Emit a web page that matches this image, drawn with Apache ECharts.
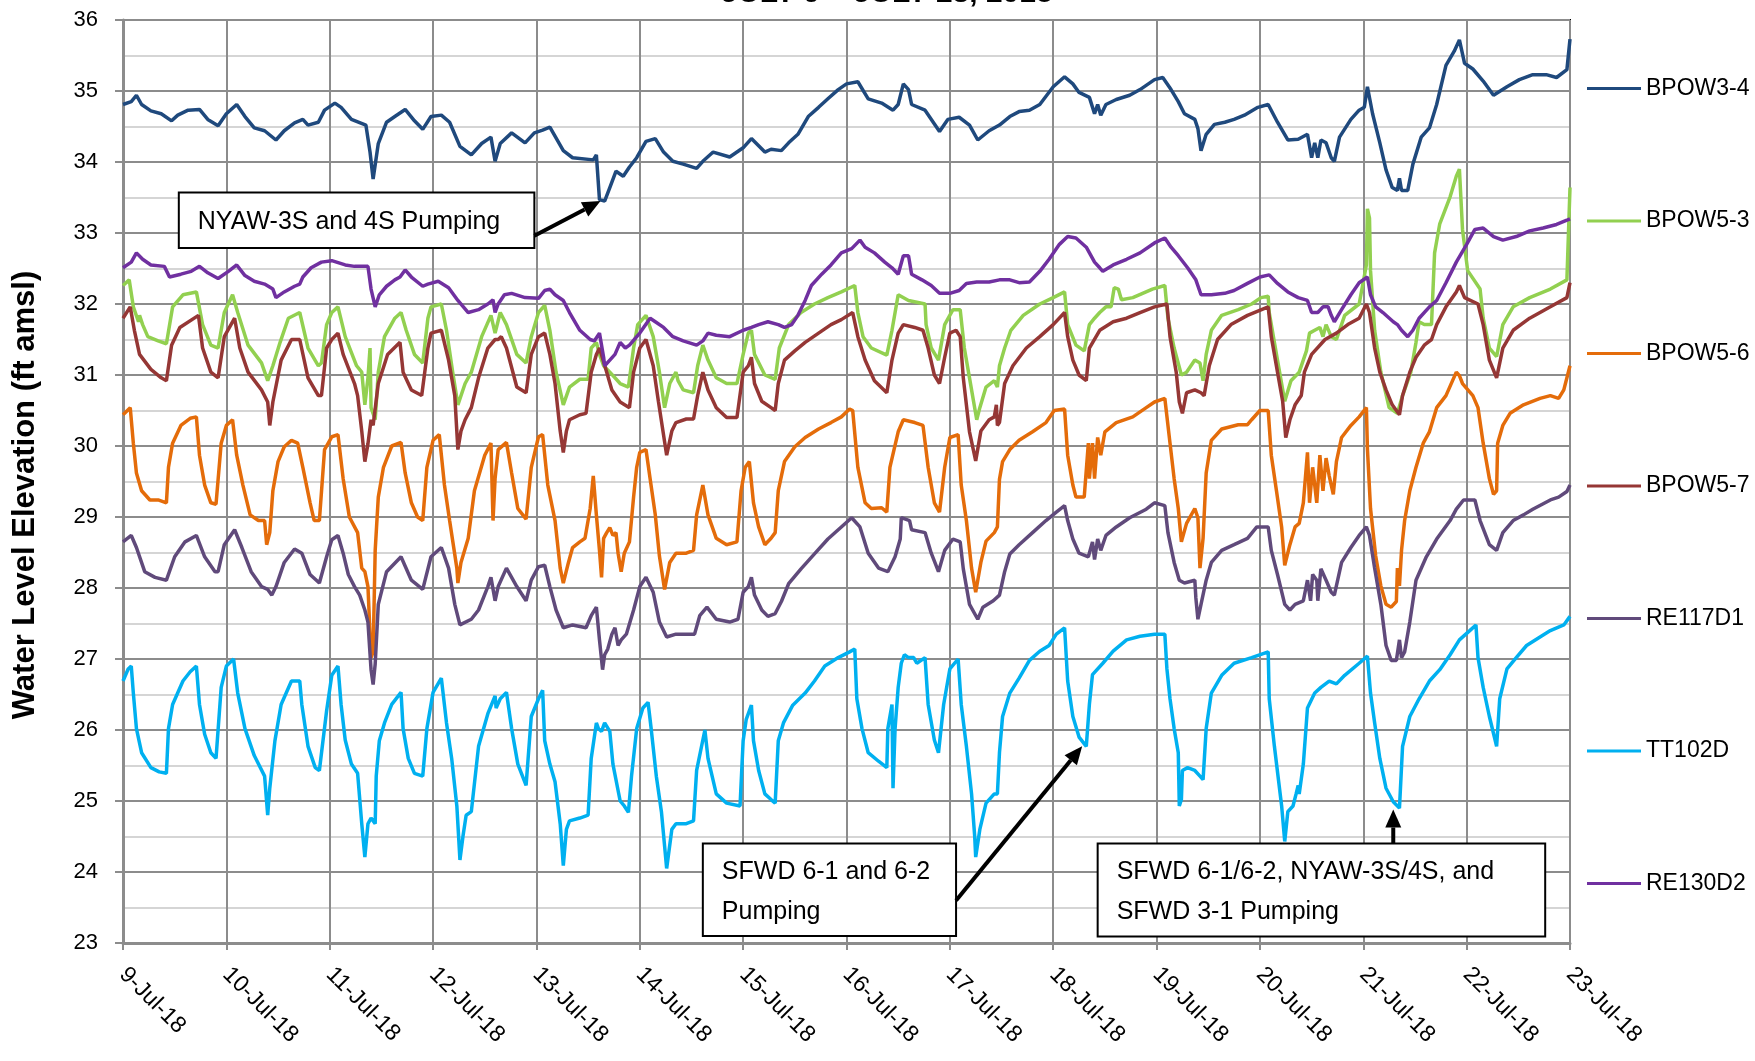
<!DOCTYPE html>
<html>
<head>
<meta charset="utf-8">
<title>Water Level Elevation</title>
<script src="https://cdn.jsdelivr.net/npm/echarts@6/dist/echarts.min.js"></script>
<style>
  html, body { margin: 0; padding: 0; background: #fff; }
  #chart { width: 1755px; height: 1061px; }
</style>
</head>
<body>
<div id="chart"></div>
<script>
// x = days after 9-Jul-18 00:00, y = water level (ft amsl)
const dayLabels = ['9-Jul-18', '10-Jul-18', '11-Jul-18', '12-Jul-18', '13-Jul-18', '14-Jul-18', '15-Jul-18',
  '16-Jul-18', '17-Jul-18', '18-Jul-18', '19-Jul-18', '20-Jul-18', '21-Jul-18', '22-Jul-18', '23-Jul-18'];

const seriesNames = ['BPOW3-4', 'BPOW5-3', 'BPOW5-6', 'BPOW5-7', 'RE117D1', 'TT102D', 'RE130D2'];
const seriesColors = ['#1F497D', '#92D050', '#E46C0A', '#953735', '#604A7B', '#00B0F0', '#7030A0'];

const bpow34 = [[0.00,34.81],[0.08,34.85],[0.13,34.94],[0.18,34.81],[0.27,34.72],[0.37,34.68],[0.47,34.58],[0.53,34.66],[0.63,34.73],[0.74,34.74],[0.82,34.6],[0.92,34.51],[1.00,34.68],[1.10,34.81],[1.18,34.64],[1.27,34.48],[1.37,34.44],[1.48,34.31],[1.56,34.44],[1.66,34.55],[1.74,34.6],[1.79,34.52],[1.89,34.56],[1.95,34.73],[2.05,34.83],[2.11,34.77],[2.21,34.6],[2.35,34.52],[2.39,34.14],[2.42,33.76],[2.47,34.26],[2.55,34.56],[2.63,34.64],[2.73,34.74],[2.82,34.58],[2.90,34.46],[2.98,34.64],[3.08,34.66],[3.16,34.56],[3.26,34.22],[3.37,34.1],[3.47,34.26],[3.56,34.35],[3.60,34.01],[3.65,34.26],[3.76,34.41],[3.89,34.27],[3.98,34.41],[4.06,34.45],[4.13,34.49],[4.26,34.16],[4.35,34.06],[4.55,34.03],[4.58,34.1],[4.61,33.47],[4.66,33.45],[4.71,33.64],[4.77,33.87],[4.84,33.8],[4.90,33.93],[4.97,34.06],[5.06,34.29],[5.15,34.33],[5.23,34.14],[5.32,34.01],[5.42,33.97],[5.55,33.91],[5.61,34.01],[5.71,34.14],[5.87,34.07],[6.00,34.2],[6.08,34.33],[6.21,34.14],[6.27,34.18],[6.37,34.16],[6.44,34.27],[6.53,34.39],[6.63,34.64],[6.73,34.77],[6.82,34.89],[6.92,35.02],[7.00,35.1],[7.11,35.13],[7.21,34.89],[7.34,34.83],[7.45,34.73],[7.50,34.81],[7.55,35.1],[7.60,35.02],[7.63,34.81],[7.76,34.73],[7.90,34.43],[7.98,34.6],[8.09,34.63],[8.19,34.52],[8.27,34.31],[8.38,34.44],[8.48,34.52],[8.58,34.64],[8.67,34.71],[8.77,34.73],[8.87,34.81],[9.00,35.06],[9.11,35.2],[9.19,35.1],[9.25,34.98],[9.35,34.91],[9.40,34.68],[9.43,34.81],[9.46,34.66],[9.51,34.81],[9.61,34.88],[9.74,34.94],[9.84,35.02],[9.98,35.16],[10.06,35.19],[10.14,35.02],[10.21,34.85],[10.27,34.68],[10.37,34.6],[10.40,34.47],[10.43,34.16],[10.48,34.39],[10.56,34.53],[10.66,34.56],[10.75,34.6],[10.85,34.66],[10.98,34.77],[11.08,34.81],[11.17,34.56],[11.27,34.31],[11.37,34.32],[11.46,34.39],[11.50,34.06],[11.53,34.27],[11.56,34.06],[11.59,34.31],[11.64,34.27],[11.69,34.06],[11.72,34.01],[11.77,34.35],[11.88,34.6],[11.96,34.73],[12.01,34.77],[12.04,35.06],[12.09,34.68],[12.16,34.27],[12.22,33.89],[12.28,33.64],[12.33,33.6],[12.35,33.77],[12.37,33.6],[12.43,33.6],[12.48,33.97],[12.56,34.35],[12.64,34.48],[12.71,34.81],[12.80,35.36],[12.88,35.56],[12.93,35.72],[12.98,35.39],[13.06,35.31],[13.16,35.14],[13.26,34.94],[13.39,35.06],[13.51,35.16],[13.64,35.23],[13.77,35.23],[13.87,35.19],[13.97,35.3],[14.00,35.73]];

const bpow53 = [[0.00,32.26],[0.06,32.34],[0.10,31.96],[0.15,31.75],[0.16,31.84],[0.19,31.71],[0.24,31.54],[0.34,31.48],[0.42,31.44],[0.48,31.96],[0.58,32.13],[0.71,32.17],[0.77,31.71],[0.85,31.42],[0.92,31.38],[0.98,31.88],[1.06,32.13],[1.11,31.88],[1.21,31.42],[1.34,31.17],[1.40,30.92],[1.45,31.13],[1.52,31.46],[1.60,31.8],[1.71,31.88],[1.79,31.38],[1.89,31.13],[1.92,31.17],[1.97,31.71],[2.02,31.88],[2.08,31.96],[2.15,31.54],[2.26,31.13],[2.31,31.04],[2.34,30.58],[2.37,30.96],[2.39,31.38],[2.40,30.54],[2.44,30.37],[2.47,31.04],[2.53,31.54],[2.63,31.8],[2.69,31.88],[2.74,31.63],[2.82,31.29],[2.90,31.17],[2.95,31.8],[2.98,31.96],[3.08,32.0],[3.13,31.63],[3.19,31.04],[3.24,30.58],[3.31,30.88],[3.37,31.04],[3.47,31.54],[3.56,31.84],[3.60,31.59],[3.65,31.88],[3.71,31.71],[3.81,31.29],[3.90,31.17],[3.95,31.54],[4.02,31.88],[4.08,31.98],[4.13,31.63],[4.19,31.04],[4.26,30.58],[4.32,30.83],[4.42,30.94],[4.50,30.94],[4.53,31.38],[4.58,31.46],[4.61,31.29],[4.65,31.13],[4.71,31.04],[4.81,30.88],[4.89,30.83],[4.94,31.38],[4.98,31.71],[5.06,31.84],[5.13,31.54],[5.19,31.04],[5.24,30.54],[5.29,30.88],[5.35,31.04],[5.37,30.92],[5.42,30.79],[5.52,30.75],[5.56,31.13],[5.61,31.42],[5.66,31.21],[5.74,30.96],[5.84,30.88],[5.94,30.88],[6.00,31.29],[6.05,31.59],[6.08,31.63],[6.11,31.29],[6.21,31.0],[6.31,30.94],[6.35,31.38],[6.44,31.71],[6.56,31.88],[6.69,32.0],[6.82,32.09],[6.95,32.17],[7.08,32.26],[7.11,31.88],[7.16,31.54],[7.24,31.38],[7.39,31.28],[7.44,31.63],[7.50,32.13],[7.60,32.05],[7.76,32.0],[7.77,31.71],[7.82,31.38],[7.89,31.21],[7.95,31.71],[8.03,31.92],[8.10,31.92],[8.14,31.38],[8.19,30.96],[8.26,30.37],[8.29,30.54],[8.35,30.83],[8.43,30.92],[8.46,30.83],[8.48,31.13],[8.53,31.38],[8.59,31.63],[8.71,31.84],[8.87,32.0],[9.00,32.09],[9.11,32.17],[9.14,31.71],[9.22,31.42],[9.30,31.34],[9.35,31.71],[9.40,31.8],[9.45,31.88],[9.51,31.96],[9.56,31.96],[9.59,32.23],[9.63,32.21],[9.66,32.06],[9.77,32.09],[9.96,32.21],[10.08,32.26],[10.11,31.8],[10.17,31.38],[10.24,31.0],[10.29,31.04],[10.37,31.21],[10.42,31.17],[10.45,30.92],[10.48,31.29],[10.53,31.63],[10.63,31.84],[10.79,31.92],[10.92,32.0],[11.01,32.09],[11.08,32.11],[11.09,31.88],[11.16,31.29],[11.24,30.63],[11.30,30.92],[11.38,31.04],[11.45,31.34],[11.48,31.59],[11.53,31.63],[11.58,31.67],[11.61,31.54],[11.64,31.71],[11.69,31.54],[11.74,31.5],[11.82,31.84],[11.96,32.0],[12.03,32.55],[12.04,33.34],[12.06,33.21],[12.07,32.47],[12.11,31.63],[12.17,31.04],[12.25,30.54],[12.33,30.46],[12.38,30.71],[12.46,31.04],[12.51,31.46],[12.54,31.75],[12.59,31.71],[12.66,31.71],[12.69,32.72],[12.74,33.13],[12.84,33.51],[12.90,33.8],[12.93,33.9],[12.96,33.05],[13.01,32.47],[13.13,32.21],[13.16,31.8],[13.22,31.38],[13.29,31.26],[13.35,31.71],[13.45,31.96],[13.61,32.09],[13.81,32.21],[13.97,32.34],[14.00,33.64]];

const bpow56 = [[0.00,30.44],[0.07,30.54],[0.10,30.04],[0.13,29.62],[0.18,29.37],[0.26,29.24],[0.34,29.24],[0.42,29.2],[0.44,29.7],[0.48,30.04],[0.56,30.29],[0.65,30.39],[0.71,30.41],[0.74,29.87],[0.79,29.45],[0.85,29.2],[0.90,29.18],[0.95,30.04],[1.00,30.29],[1.06,30.37],[1.10,29.87],[1.16,29.45],[1.23,29.03],[1.31,28.95],[1.37,28.95],[1.39,28.61],[1.42,28.78],[1.45,29.37],[1.50,29.78],[1.56,29.99],[1.63,30.08],[1.69,30.04],[1.74,29.7],[1.81,29.2],[1.85,28.95],[1.90,28.95],[1.95,29.95],[2.02,30.13],[2.08,30.16],[2.13,29.54],[2.19,29.0],[2.27,28.78],[2.31,28.28],[2.34,28.23],[2.37,28.02],[2.40,27.02],[2.42,27.1],[2.44,28.53],[2.47,29.28],[2.52,29.7],[2.60,30.0],[2.69,30.05],[2.73,29.62],[2.79,29.2],[2.85,29.0],[2.90,28.95],[2.94,29.7],[3.00,30.08],[3.06,30.16],[3.11,29.45],[3.16,28.95],[3.23,28.28],[3.24,28.07],[3.27,28.36],[3.34,28.7],[3.40,29.37],[3.50,29.87],[3.56,30.04],[3.58,28.95],[3.60,29.54],[3.63,29.95],[3.71,30.05],[3.76,29.62],[3.82,29.12],[3.90,28.97],[3.95,29.7],[4.02,30.13],[4.06,30.16],[4.11,29.45],[4.18,28.95],[4.23,28.28],[4.26,28.07],[4.31,28.36],[4.35,28.57],[4.42,28.65],[4.47,28.7],[4.52,29.12],[4.55,29.58],[4.58,29.03],[4.61,28.53],[4.63,28.15],[4.65,28.7],[4.68,28.78],[4.71,28.85],[4.74,28.74],[4.77,28.78],[4.79,28.49],[4.82,28.23],[4.85,28.49],[4.90,28.65],[4.94,29.28],[4.97,29.7],[5.00,29.91],[5.06,29.95],[5.10,29.54],[5.15,29.03],[5.19,28.45],[5.24,27.98],[5.29,28.36],[5.35,28.49],[5.45,28.49],[5.52,28.53],[5.55,29.03],[5.61,29.45],[5.66,29.03],[5.74,28.7],[5.84,28.61],[5.94,28.65],[5.98,29.37],[6.02,29.7],[6.06,29.78],[6.10,29.2],[6.15,28.86],[6.21,28.61],[6.27,28.7],[6.31,28.78],[6.34,29.37],[6.40,29.78],[6.50,29.99],[6.60,30.12],[6.73,30.24],[6.85,30.33],[6.95,30.41],[7.03,30.52],[7.06,30.5],[7.11,29.7],[7.18,29.2],[7.24,29.12],[7.34,29.13],[7.39,29.07],[7.42,29.7],[7.50,30.2],[7.55,30.37],[7.66,30.33],[7.74,30.29],[7.79,29.7],[7.85,29.2],[7.90,29.07],[7.95,29.7],[8.00,30.12],[8.08,30.16],[8.11,29.45],[8.16,28.95],[8.21,28.28],[8.25,27.94],[8.30,28.36],[8.35,28.66],[8.43,28.78],[8.46,28.86],[8.48,29.53],[8.51,29.78],[8.58,29.95],[8.67,30.08],[8.80,30.2],[8.93,30.33],[9.01,30.5],[9.11,30.52],[9.14,29.87],[9.19,29.45],[9.22,29.28],[9.30,29.28],[9.34,30.04],[9.35,29.54],[9.38,30.04],[9.40,29.54],[9.43,30.12],[9.46,29.87],[9.50,30.2],[9.61,30.33],[9.77,30.41],[9.90,30.54],[9.98,30.62],[10.08,30.67],[10.13,30.04],[10.17,29.54],[10.21,29.12],[10.24,28.65],[10.29,28.91],[10.37,29.12],[10.40,28.99],[10.42,28.28],[10.45,28.7],[10.48,29.62],[10.53,30.08],[10.63,30.24],[10.79,30.3],[10.88,30.3],[10.92,30.37],[11.00,30.5],[11.08,30.5],[11.11,29.87],[11.16,29.37],[11.21,28.86],[11.24,28.32],[11.29,28.61],[11.34,28.86],[11.38,28.91],[11.42,29.2],[11.46,29.91],[11.48,29.2],[11.51,29.7],[11.55,29.2],[11.58,29.87],[11.61,29.37],[11.64,29.83],[11.67,29.58],[11.71,29.32],[11.74,29.78],[11.79,30.12],[11.88,30.29],[11.96,30.41],[12.03,30.54],[12.04,29.96],[12.07,29.12],[12.12,28.45],[12.17,28.03],[12.22,27.77],[12.27,27.73],[12.32,27.81],[12.33,28.28],[12.35,28.03],[12.37,28.53],[12.40,28.95],[12.45,29.37],[12.51,29.7],[12.58,30.04],[12.64,30.2],[12.71,30.54],[12.80,30.71],[12.90,31.04],[12.93,30.99],[12.96,30.88],[13.06,30.71],[13.11,30.54],[13.16,30.04],[13.22,29.54],[13.26,29.32],[13.29,29.37],[13.30,30.04],[13.35,30.29],[13.42,30.46],[13.55,30.58],[13.71,30.67],[13.81,30.71],[13.89,30.67],[13.94,30.79],[14.00,31.13]];

const bpow57 = [[0.00,31.8],[0.07,31.96],[0.11,31.63],[0.16,31.29],[0.27,31.08],[0.37,30.96],[0.42,30.92],[0.47,31.42],[0.55,31.67],[0.73,31.84],[0.77,31.38],[0.85,31.04],[0.92,30.96],[0.98,31.54],[1.08,31.8],[1.13,31.38],[1.21,31.04],[1.34,30.79],[1.40,30.62],[1.42,30.29],[1.45,30.62],[1.53,31.21],[1.63,31.5],[1.71,31.5],[1.79,30.96],[1.89,30.71],[1.92,30.71],[1.97,31.38],[2.02,31.5],[2.08,31.59],[2.13,31.29],[2.24,30.88],[2.27,30.71],[2.31,30.21],[2.34,29.78],[2.37,30.03],[2.40,30.37],[2.42,30.29],[2.47,30.88],[2.56,31.29],[2.68,31.46],[2.71,31.04],[2.79,30.79],[2.89,30.71],[2.95,31.38],[2.98,31.59],[3.08,31.63],[3.15,31.21],[3.21,30.71],[3.24,29.95],[3.27,30.21],[3.31,30.37],[3.37,30.54],[3.44,30.96],[3.53,31.38],[3.60,31.5],[3.63,31.5],[3.66,31.54],[3.71,31.38],[3.81,30.83],[3.90,30.75],[3.95,31.29],[4.02,31.54],[4.08,31.59],[4.13,31.29],[4.18,30.88],[4.23,30.21],[4.26,29.91],[4.29,30.21],[4.32,30.37],[4.42,30.44],[4.48,30.46],[4.53,31.04],[4.58,31.29],[4.61,31.38],[4.68,31.04],[4.73,30.79],[4.81,30.62],[4.90,30.54],[4.94,31.04],[5.00,31.38],[5.06,31.5],[5.13,31.13],[5.18,30.63],[5.26,29.87],[5.31,30.21],[5.35,30.33],[5.45,30.38],[5.52,30.38],[5.56,30.71],[5.61,31.04],[5.66,30.79],[5.74,30.54],[5.84,30.4],[5.94,30.4],[6.00,31.04],[6.05,31.13],[6.08,31.25],[6.11,30.88],[6.18,30.63],[6.27,30.54],[6.31,30.5],[6.34,30.88],[6.40,31.21],[6.50,31.34],[6.60,31.46],[6.73,31.59],[6.85,31.71],[6.95,31.78],[7.06,31.88],[7.11,31.54],[7.18,31.21],[7.27,30.92],[7.39,30.75],[7.44,31.21],[7.50,31.59],[7.55,31.71],[7.66,31.67],[7.74,31.63],[7.79,31.38],[7.85,31.0],[7.90,30.88],[7.95,31.25],[8.00,31.59],[8.06,31.63],[8.10,31.54],[8.13,30.96],[8.19,30.2],[8.25,29.79],[8.30,30.21],[8.38,30.37],[8.43,30.41],[8.45,30.58],[8.46,30.29],[8.48,30.33],[8.53,30.88],[8.61,31.13],[8.74,31.38],[8.87,31.54],[9.00,31.71],[9.11,31.88],[9.14,31.54],[9.19,31.21],[9.25,31.0],[9.32,30.92],[9.35,31.38],[9.45,31.63],[9.58,31.75],[9.71,31.8],[9.84,31.88],[9.98,31.96],[10.10,32.0],[10.13,31.54],[10.19,31.04],[10.22,30.62],[10.25,30.46],[10.29,30.75],[10.37,30.79],[10.43,30.75],[10.46,30.71],[10.51,31.13],[10.59,31.5],[10.72,31.71],[10.88,31.84],[11.08,31.96],[11.11,31.54],[11.17,31.04],[11.22,30.63],[11.25,30.12],[11.29,30.37],[11.34,30.58],[11.40,30.71],[11.43,31.04],[11.50,31.29],[11.63,31.5],[11.74,31.59],[11.85,31.71],[11.96,31.8],[12.03,32.0],[12.06,31.88],[12.11,31.38],[12.16,31.04],[12.22,30.79],[12.28,30.58],[12.35,30.44],[12.38,30.71],[12.45,31.04],[12.51,31.25],[12.59,31.42],[12.66,31.5],[12.71,31.71],[12.80,31.96],[12.90,32.17],[12.93,32.26],[12.98,32.09],[13.11,32.0],[13.16,31.71],[13.22,31.21],[13.29,30.96],[13.35,31.38],[13.45,31.63],[13.61,31.8],[13.81,31.96],[13.97,32.09],[14.00,32.3]];

const re117d1 = [[0.00,28.65],[0.08,28.74],[0.13,28.57],[0.21,28.23],[0.31,28.15],[0.42,28.11],[0.50,28.44],[0.60,28.65],[0.71,28.74],[0.79,28.44],[0.89,28.23],[0.92,28.23],[0.98,28.61],[1.08,28.82],[1.15,28.57],[1.24,28.23],[1.34,28.02],[1.40,27.98],[1.44,27.9],[1.48,28.02],[1.56,28.36],[1.66,28.55],[1.73,28.49],[1.81,28.19],[1.90,28.07],[1.97,28.44],[2.02,28.68],[2.08,28.74],[2.13,28.49],[2.18,28.19],[2.24,28.02],[2.29,27.9],[2.34,27.69],[2.37,27.52],[2.40,26.85],[2.42,26.64],[2.44,26.93],[2.47,27.77],[2.55,28.23],[2.69,28.44],[2.79,28.11],[2.90,27.98],[2.98,28.44],[3.08,28.57],[3.15,28.28],[3.21,27.77],[3.26,27.48],[3.37,27.56],[3.44,27.69],[3.53,28.02],[3.56,28.15],[3.60,27.82],[3.63,28.02],[3.71,28.28],[3.81,28.02],[3.90,27.82],[3.95,28.11],[4.02,28.3],[4.08,28.32],[4.13,28.02],[4.19,27.69],[4.26,27.44],[4.35,27.48],[4.48,27.44],[4.53,27.61],[4.58,27.73],[4.61,27.27],[4.64,26.85],[4.66,27.06],[4.69,27.14],[4.73,27.35],[4.76,27.44],[4.79,27.19],[4.82,27.27],[4.87,27.35],[4.94,27.69],[5.00,28.02],[5.06,28.15],[5.13,27.94],[5.19,27.52],[5.26,27.31],[5.35,27.35],[5.45,27.35],[5.53,27.35],[5.58,27.61],[5.65,27.73],[5.74,27.56],[5.87,27.52],[5.95,27.56],[6.00,27.94],[6.05,28.02],[6.08,28.15],[6.11,27.9],[6.18,27.69],[6.24,27.6],[6.31,27.64],[6.37,27.81],[6.44,28.06],[6.56,28.27],[6.69,28.48],[6.82,28.69],[6.95,28.86],[7.05,28.99],[7.13,28.86],[7.21,28.49],[7.31,28.28],[7.40,28.23],[7.47,28.44],[7.52,28.69],[7.53,28.99],[7.61,28.95],[7.63,28.82],[7.76,28.78],[7.82,28.49],[7.89,28.23],[7.95,28.53],[8.03,28.69],[8.10,28.65],[8.13,28.27],[8.19,27.77],[8.27,27.56],[8.32,27.73],[8.42,27.82],[8.48,27.9],[8.53,28.23],[8.58,28.48],[8.67,28.61],[8.80,28.78],[8.93,28.95],[9.03,29.07],[9.11,29.16],[9.14,28.95],[9.19,28.69],[9.25,28.49],[9.34,28.44],[9.38,28.65],[9.40,28.4],[9.43,28.69],[9.46,28.53],[9.51,28.74],[9.61,28.86],[9.74,28.99],[9.90,29.11],[9.98,29.2],[10.08,29.16],[10.11,28.78],[10.17,28.36],[10.22,28.11],[10.27,28.07],[10.37,28.11],[10.38,27.86],[10.40,27.56],[10.43,27.77],[10.48,28.11],[10.53,28.36],[10.63,28.53],[10.75,28.61],[10.88,28.7],[10.97,28.86],[11.08,28.86],[11.11,28.53],[11.17,28.19],[11.24,27.77],[11.29,27.69],[11.34,27.77],[11.42,27.82],[11.46,28.11],[11.49,27.82],[11.51,28.19],[11.55,28.11],[11.56,27.82],[11.59,28.27],[11.64,28.11],[11.69,27.94],[11.72,27.9],[11.79,28.36],[11.88,28.57],[11.96,28.74],[12.03,28.86],[12.06,28.74],[12.11,28.28],[12.17,27.77],[12.22,27.19],[12.27,26.98],[12.32,26.98],[12.35,27.27],[12.37,27.02],[12.40,27.1],[12.45,27.52],[12.51,28.11],[12.61,28.44],[12.71,28.69],[12.84,28.95],[12.90,29.11],[12.97,29.24],[13.08,29.24],[13.13,28.95],[13.22,28.61],[13.29,28.53],[13.35,28.78],[13.45,28.95],[13.55,29.03],[13.64,29.11],[13.81,29.24],[13.89,29.28],[13.97,29.36],[14.00,29.45]];

const tt102d = [[0.00,26.69],[0.05,26.86],[0.08,26.9],[0.10,26.52],[0.13,26.02],[0.18,25.68],[0.27,25.47],[0.35,25.41],[0.42,25.39],[0.44,26.02],[0.48,26.36],[0.58,26.69],[0.65,26.82],[0.71,26.9],[0.74,26.36],[0.79,25.94],[0.85,25.68],[0.90,25.6],[0.95,26.6],[1.00,26.9],[1.07,27.0],[1.11,26.52],[1.18,26.02],[1.27,25.64],[1.37,25.35],[1.40,24.8],[1.42,25.18],[1.47,25.85],[1.53,26.36],[1.63,26.69],[1.71,26.69],[1.73,26.36],[1.79,25.77],[1.86,25.47],[1.90,25.43],[1.97,26.27],[2.02,26.77],[2.08,26.9],[2.11,26.36],[2.15,25.86],[2.21,25.52],[2.27,25.39],[2.31,24.68],[2.34,24.21],[2.37,24.68],[2.40,24.76],[2.44,24.68],[2.45,25.35],[2.48,25.85],[2.53,26.1],[2.60,26.36],[2.69,26.53],[2.71,26.02],[2.76,25.6],[2.82,25.39],[2.90,25.35],[2.94,26.02],[3.00,26.53],[3.08,26.73],[3.13,26.1],[3.18,25.6],[3.23,24.93],[3.26,24.17],[3.29,24.51],[3.32,24.8],[3.37,24.85],[3.44,25.77],[3.53,26.23],[3.60,26.48],[3.61,26.31],[3.65,26.44],[3.71,26.53],[3.76,26.02],[3.82,25.52],[3.90,25.22],[3.95,26.19],[4.02,26.44],[4.06,26.56],[4.08,25.85],[4.13,25.52],[4.18,25.27],[4.23,24.68],[4.26,24.09],[4.29,24.6],[4.32,24.72],[4.42,24.76],[4.50,24.8],[4.53,25.6],[4.58,26.1],[4.60,26.02],[4.63,25.98],[4.66,26.1],[4.71,25.98],[4.74,25.52],[4.81,25.0],[4.85,24.93],[4.89,24.84],[4.92,25.35],[4.97,26.02],[5.03,26.31],[5.08,26.39],[5.11,26.02],[5.16,25.35],[5.21,24.84],[5.26,24.05],[5.31,24.6],[5.35,24.68],[5.45,24.68],[5.52,24.72],[5.55,25.43],[5.63,26.0],[5.66,25.6],[5.74,25.1],[5.84,24.97],[5.97,24.93],[6.00,25.85],[6.03,26.15],[6.08,26.35],[6.10,25.85],[6.15,25.43],[6.21,25.1],[6.27,25.02],[6.31,24.97],[6.34,25.85],[6.39,26.1],[6.48,26.35],[6.60,26.52],[6.69,26.69],[6.79,26.9],[6.92,27.02],[7.03,27.1],[7.08,27.14],[7.10,26.44],[7.15,26.02],[7.21,25.68],[7.31,25.56],[7.39,25.47],[7.40,26.02],[7.44,26.36],[7.45,25.18],[7.47,26.02],[7.50,26.6],[7.53,26.94],[7.56,27.06],[7.60,27.02],[7.65,27.02],[7.68,26.94],[7.76,27.02],[7.79,26.36],[7.85,25.86],[7.89,25.68],[7.94,26.36],[8.00,26.86],[8.08,27.0],[8.11,26.36],[8.16,25.77],[8.21,25.1],[8.24,24.51],[8.25,24.21],[8.29,24.6],[8.35,24.97],[8.43,25.1],[8.46,25.1],[8.48,25.68],[8.51,26.19],[8.58,26.52],[8.67,26.73],[8.77,26.98],[8.87,27.11],[8.96,27.19],[9.03,27.35],[9.11,27.44],[9.14,26.69],[9.19,26.19],[9.25,25.9],[9.32,25.77],[9.35,26.36],[9.38,26.78],[9.48,26.94],[9.58,27.11],[9.71,27.27],[9.84,27.32],[9.98,27.35],[10.08,27.35],[10.10,26.86],[10.13,26.44],[10.17,26.02],[10.21,25.68],[10.22,24.93],[10.24,25.02],[10.25,25.43],[10.30,25.47],[10.37,25.43],[10.42,25.35],[10.45,25.3],[10.48,26.02],[10.53,26.52],[10.63,26.77],[10.75,26.94],[10.92,27.02],[11.08,27.1],[11.09,26.44],[11.14,25.77],[11.21,24.93],[11.24,24.43],[11.27,24.85],[11.32,24.93],[11.35,25.1],[11.37,25.22],[11.38,25.1],[11.42,25.52],[11.46,26.31],[11.53,26.52],[11.59,26.6],[11.67,26.69],[11.74,26.65],[11.82,26.77],[11.96,26.94],[12.04,27.04],[12.07,26.52],[12.11,26.1],[12.16,25.6],[12.22,25.18],[12.29,24.99],[12.35,24.9],[12.38,25.77],[12.45,26.19],[12.54,26.44],[12.64,26.69],[12.74,26.85],[12.84,27.06],[12.93,27.27],[13.03,27.4],[13.09,27.48],[13.11,27.02],[13.16,26.6],[13.22,26.19],[13.29,25.77],[13.32,26.44],[13.39,26.86],[13.48,27.02],[13.58,27.19],[13.71,27.31],[13.81,27.4],[13.94,27.48],[14.00,27.6]];

const re130d2 = [[0.00,32.51],[0.08,32.59],[0.13,32.72],[0.19,32.63],[0.27,32.55],[0.40,32.53],[0.45,32.38],[0.56,32.42],[0.66,32.46],[0.74,32.53],[0.82,32.44],[0.92,32.36],[1.02,32.46],[1.10,32.55],[1.18,32.4],[1.27,32.32],[1.37,32.28],[1.45,32.21],[1.48,32.09],[1.56,32.17],[1.66,32.25],[1.71,32.28],[1.74,32.38],[1.82,32.51],[1.92,32.59],[2.02,32.61],[2.15,32.55],[2.24,32.53],[2.37,32.53],[2.40,32.21],[2.44,31.96],[2.48,32.13],[2.55,32.25],[2.63,32.34],[2.68,32.38],[2.73,32.48],[2.79,32.38],[2.90,32.25],[2.95,32.28],[3.05,32.32],[3.15,32.23],[3.24,32.05],[3.34,31.88],[3.44,31.92],[3.53,32.0],[3.58,32.06],[3.60,31.88],[3.63,32.0],[3.69,32.13],[3.76,32.15],[3.89,32.09],[4.02,32.08],[4.08,32.19],[4.13,32.21],[4.18,32.13],[4.26,32.05],[4.32,31.88],[4.42,31.63],[4.52,31.5],[4.56,31.48],[4.61,31.59],[4.65,31.25],[4.66,31.13],[4.71,31.21],[4.76,31.29],[4.81,31.46],[4.86,31.38],[4.90,31.42],[5.00,31.59],[5.10,31.8],[5.15,31.75],[5.23,31.67],[5.32,31.54],[5.42,31.48],[5.55,31.42],[5.61,31.48],[5.66,31.59],[5.74,31.56],[5.87,31.54],[6.00,31.63],[6.08,31.67],[6.15,31.71],[6.24,31.75],[6.34,31.71],[6.40,31.67],[6.47,31.71],[6.53,31.84],[6.60,32.05],[6.66,32.26],[6.76,32.42],[6.85,32.55],[6.95,32.72],[7.05,32.78],[7.13,32.9],[7.18,32.8],[7.27,32.72],[7.37,32.59],[7.44,32.51],[7.50,32.42],[7.55,32.68],[7.60,32.68],[7.63,32.42],[7.73,32.34],[7.82,32.26],[7.90,32.15],[8.00,32.15],[8.09,32.19],[8.16,32.29],[8.26,32.31],[8.38,32.31],[8.48,32.34],[8.58,32.34],[8.67,32.3],[8.77,32.31],[8.87,32.46],[8.96,32.63],[9.06,32.84],[9.14,32.95],[9.22,32.93],[9.32,32.8],[9.40,32.59],[9.45,32.51],[9.48,32.46],[9.58,32.55],[9.71,32.63],[9.84,32.72],[9.98,32.86],[10.08,32.93],[10.14,32.8],[10.21,32.68],[10.30,32.51],[10.38,32.34],[10.43,32.13],[10.53,32.13],[10.66,32.15],[10.75,32.19],[10.88,32.29],[11.00,32.38],[11.09,32.41],[11.17,32.29],[11.27,32.17],[11.37,32.09],[11.46,32.05],[11.50,31.88],[11.56,31.88],[11.61,31.96],[11.66,31.96],[11.69,31.84],[11.72,31.75],[11.79,31.92],[11.88,32.13],[11.96,32.3],[12.04,32.38],[12.07,32.13],[12.12,31.96],[12.19,31.88],[12.29,31.75],[12.33,31.71],[12.37,31.63],[12.43,31.54],[12.48,31.63],[12.54,31.8],[12.64,31.96],[12.71,32.05],[12.80,32.3],[12.90,32.59],[13.00,32.84],[13.08,33.05],[13.16,33.07],[13.26,32.95],[13.35,32.9],[13.48,32.95],[13.61,33.03],[13.74,33.07],[13.87,33.12],[13.97,33.18],[14.00,33.2]];

const seriesData = [bpow34, bpow53, bpow56, bpow57, re117d1, tt102d, re130d2];

// callout boxes, in axis units: box = [x0, yTop, x1, yBottom], arrow = [from, to]
const notes = [
  { text: 'NYAW-3S and 4S Pumping', box: [0.54, 33.57, 3.98, 32.79], arrow: [[3.98, 32.96], [4.62, 33.45]] },
  { text: 'SFWD 6-1 and 6-2\nPumping', box: [5.61, 24.40, 8.06, 23.10], arrow: [[8.06, 23.6], [9.28, 25.77]] },
  { text: 'SFWD 6-1/6-2, NYAW-3S/4S, and\nSFWD 3-1 Pumping', box: [9.43, 24.40, 13.76, 23.09], arrow: [[12.29, 24.40], [12.29, 24.88]] }
];

const chart = echarts.init(document.getElementById('chart'));

const option = {
  animation: false,
  backgroundColor: '#fff',
  grid: {
    left: 123, right: 185, top: 20, bottom: 118,
    show: true, borderColor: '#000', borderWidth: 2
  },
  legend: {
    orient: 'vertical',
    left: 1587,
    top: 77,
    padding: 0,
    icon: 'rect',
    itemWidth: 54,
    itemHeight: 3,
    itemGap: 109.5,
    selectedMode: false,
    data: seriesNames,
    textStyle: { fontFamily: 'Liberation Sans', fontSize: 23, lineHeight: 22, color: '#000' }
  },
  xAxis: {
    type: 'value',
    min: 0,
    max: 14,
    interval: 1,
    axisLine: { show: true, onZero: false, lineStyle: { color: '#8c8c8c', width: 3 } },
    axisTick: { show: true, length: 7, lineStyle: { color: '#8c8c8c', width: 2 } },
    axisLabel: {
      rotate: -45,
      margin: 28,
      fontFamily: 'Liberation Sans',
      fontSize: 23,
      color: '#000',
      formatter: v => dayLabels[Math.round(v)]
    },
    splitLine: { show: true, lineStyle: { color: '#8c8c8c', width: 2 } }
  },
  yAxis: {
    type: 'value',
    min: 23,
    max: 36,
    interval: 1,
    axisLine: { show: true, lineStyle: { color: '#8c8c8c', width: 3 } },
    axisTick: { show: true, length: 8, lineStyle: { color: '#8c8c8c', width: 2 } },
    axisLabel: { margin: 25, fontFamily: 'Liberation Sans', fontSize: 22, color: '#000' },
    splitLine: { show: true, lineStyle: { color: '#8c8c8c', width: 2 } },
    minorTick: { show: false, splitNumber: 2 },
    minorSplitLine: { show: true, lineStyle: { color: '#c8c8c8', width: 1.5 } }
  },
  series: seriesNames.map((name, i) => ({
    name: name,
    type: 'line',
    data: seriesData[i],
    symbol: 'none',
    smooth: false,
    sampling: 'none',
    color: seriesColors[i],
    lineStyle: { color: seriesColors[i], width: 3.5 }
  }))
};

chart.setOption(option);

const drawExtras = () => {
  const px = p => chart.convertToPixel({ gridIndex: 0 }, p);
  const els = [];

  els.push({
    type: 'text', x: 887, y: -6, z: 100,
    style: { text: 'JULY 9 \u2013 JULY 23, 2018', font: 'bold 30px "Liberation Sans"', fill: '#000', align: 'center', verticalAlign: 'middle' }
  });
  els.push({
    type: 'text', x: 25, y: 495, rotation: Math.PI / 2, z: 100,
    style: { text: 'Water Level Elevation (ft amsl)', font: 'bold 31px "Liberation Sans"', fill: '#000', align: 'center', verticalAlign: 'middle' }
  });

  notes.forEach(n => {
    const a = px([n.box[0], n.box[1]]);
    const b = px([n.box[2], n.box[3]]);
    els.push({
      type: 'rect', z: 100,
      shape: { x: a[0], y: a[1], width: b[0] - a[0], height: b[1] - a[1] },
      style: { fill: '#fff', stroke: '#000', lineWidth: 2 }
    });
    els.push({
      type: 'text', x: a[0] + 19, y: (a[1] + b[1]) / 2 + 2, z: 101,
      style: { text: n.text, font: '25px "Liberation Sans"', fill: '#000', lineHeight: 40, align: 'left', verticalAlign: 'middle' }
    });
    const s = px(n.arrow[0]);
    const e = px(n.arrow[1]);
    const ang = Math.atan2(e[1] - s[1], e[0] - s[0]);
    const hl = 18, hw = 8;
    const bx = e[0] - hl * Math.cos(ang);
    const by = e[1] - hl * Math.sin(ang);
    els.push({
      type: 'line', z: 100,
      shape: { x1: s[0], y1: s[1], x2: bx, y2: by },
      style: { stroke: '#000', lineWidth: 4 }
    });
    els.push({
      type: 'polygon', z: 100,
      shape: { points: [[e[0], e[1]], [bx + hw * Math.sin(ang), by - hw * Math.cos(ang)], [bx - hw * Math.sin(ang), by + hw * Math.cos(ang)]] },
      style: { fill: '#000' }
    });
  });

  chart.setOption({ graphic: els });
};

drawExtras();
</script>
</body>
</html>
